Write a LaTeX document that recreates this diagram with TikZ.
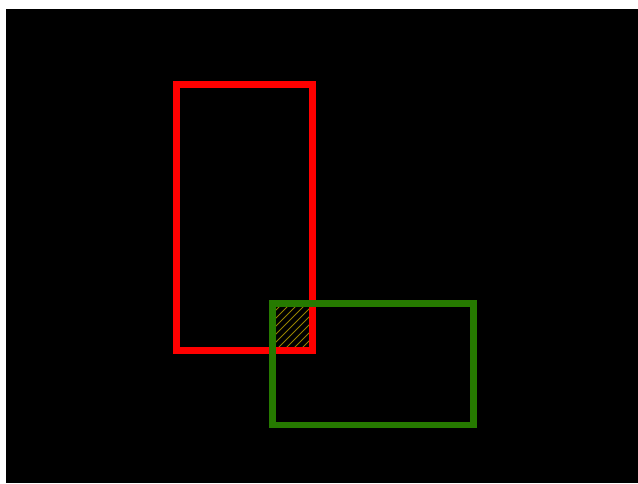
\documentclass[tikz,border=0pt]{standalone}
\begin{document}
\begin{tikzpicture}[x=1pt,y=-1pt,
  redbox/.style={draw={rgb,255:red,255;green,0;blue,0},line width=6.5pt,outer sep=0pt},
  greenbox/.style={draw={rgb,255:red,38;green,122;blue,0},line width=6.5pt,outer sep=0pt},
  hatchline/.style={draw={rgb,255:red,150;green,130;blue,0},line width=0.9pt}]
\useasboundingbox (0,0) rectangle (638,483);
\fill[white] (0,0) rectangle (638,483);
\fill[black] (6,9) rectangle (638,483);
\begin{scope}
\clip (275.8,306.8) rectangle (309.2,347.2);
\foreach \k in {-7,...,5}{
  \draw[hatchline] (276+\k*8,350) -- ++(60,-60);
}
\end{scope}
\node[redbox,rectangle,inner sep=0,minimum width=136pt,minimum height=266pt,anchor=north west] (r) at (176.5,84.5) {};
\node[greenbox,rectangle,inner sep=0,minimum width=201pt,minimum height=121.5pt,anchor=north west] (g) at (272.5,303.5) {};
\end{tikzpicture}
\end{document}
